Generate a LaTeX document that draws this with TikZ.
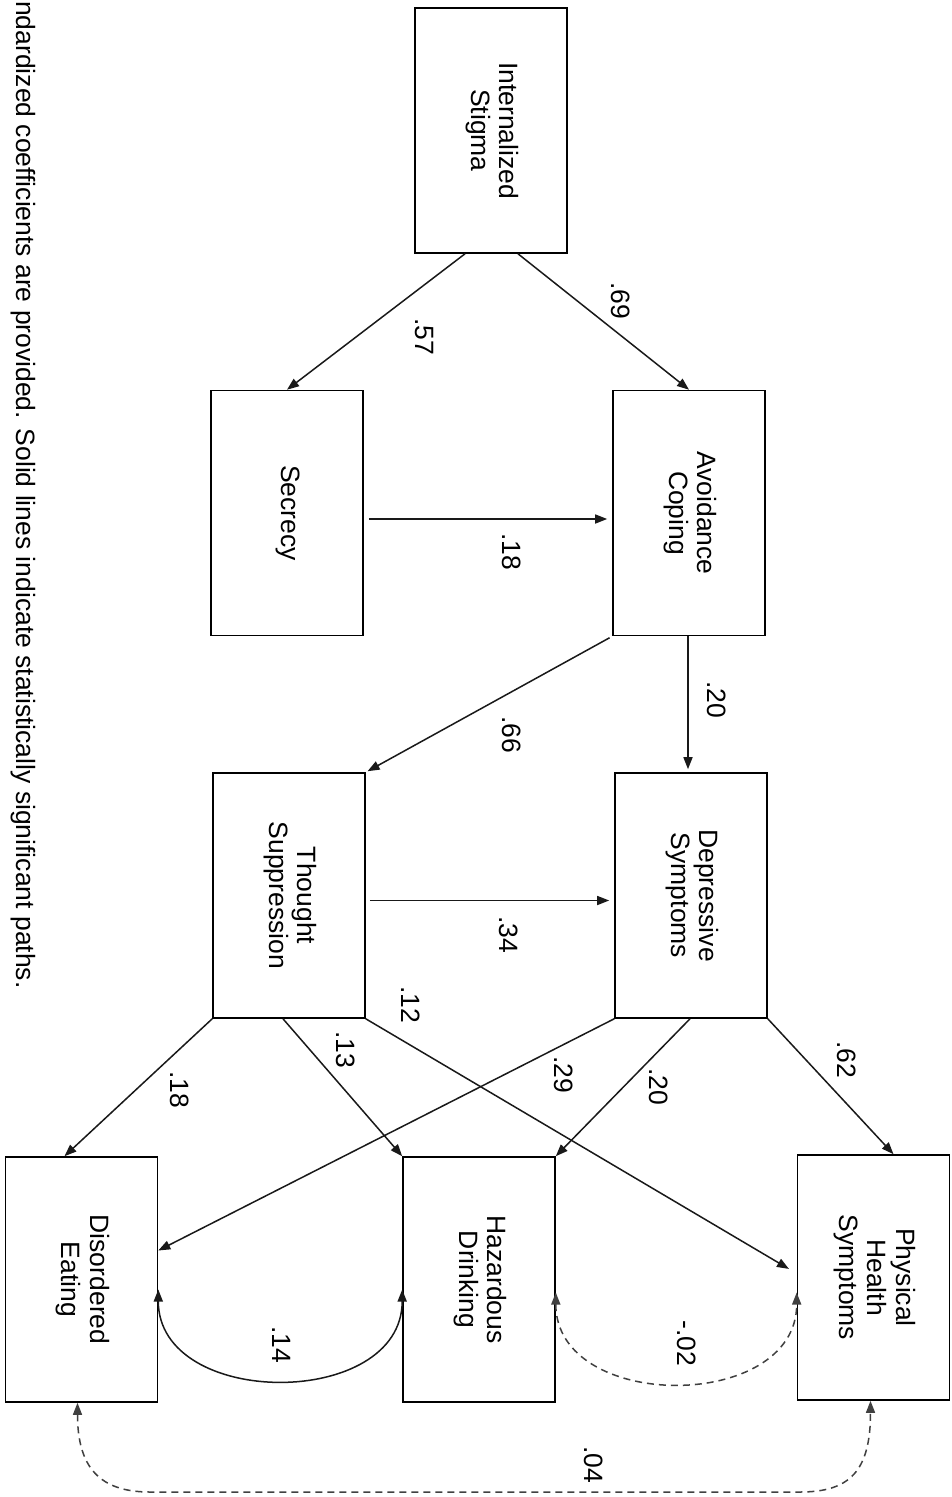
\documentclass[tikz,border=0pt]{standalone}
\usepackage{fontspec}
\setmainfont{Liberation Sans}
\usepackage{graphicx}
\usetikzlibrary{arrows.meta}
% text set top-to-bottom, as in a page turned a quarter clockwise
\newcommand{\turntext}[1]{\rotatebox{-90}{\begin{tabular}{@{}c@{}}#1\end{tabular}}}
\tikzset{
  box/.style={draw=black, line width=1.6pt, rectangle, minimum width=152pt, minimum height=245pt, inner sep=0pt},
  path/.style={draw=black!90, line width=1.5pt, -{Triangle[length=12pt,width=9pt]}},
  cov/.style={draw=black!90, line width=1.5pt, {Triangle[length=12pt,width=9pt]}-{Triangle[length=12pt,width=9pt]}},
  nscov/.style={cov, draw=black!75, dash pattern=on 7pt off 5pt},
  lbl/.style={inner sep=0pt, font=\fontsize{26.5}{28.5}\selectfont},
}
\begin{document}
\begin{tikzpicture}[x=1pt, y=-1pt, font=\fontsize{26.5}{28.5}\selectfont]
\useasboundingbox (0,0) rectangle (951,1497);
\fill[white] (0,0) rectangle (951,1497);

% latent constructs
\node[box] (is) at (491,130.5) {\turntext{Internalized\\Stigma}};
\node[box] (sec) at (287,513) {\turntext{Secrecy}};
\node[box] (ac) at (689,513) {\turntext{Avoidance\\Coping}};
\node[box] (ts) at (289,895.5) {\turntext{Thought\\Suppression}};
\node[box] (ds) at (691,895.5) {\turntext{Depressive\\Symptoms}};
\node[box] (de) at (81.5,1279.5) {\turntext{Disordered\\Eating}};
\node[box] (hd) at (479,1279.5) {\turntext{Hazardous\\Drinking}};
\node[box] (ph) at (873.5,1277.5) {\turntext{Physical\\Health\\Symptoms}};

% directed paths
\draw[path] ([xshift=-26pt]is.south) -- (sec.north);
\draw[path] ([xshift=27pt]is.south) -- (ac.north);
\draw[path, shorten <=5pt, shorten >=5pt] ([yshift=-6pt]sec.east) -- ([yshift=-6pt]ac.west);
\draw[path, shorten >=3pt] ([xshift=-1pt]ac.south) -- ([xshift=-3pt]ds.north);
\draw[path, shorten <=3pt, shorten >=2pt] (ac.south west) -- (ts.north east);
\draw[path, shorten <=4pt, shorten >=5pt] ([yshift=-5pt]ts.east) -- ([yshift=-5pt]ds.west);
\draw[path] (ts.south west) -- ([xshift=-17pt]de.north);
\draw[path] ([xshift=-6pt]ts.south) -- (hd.north west);
\draw[path, shorten >=9pt] (ts.south east) -- ([yshift=4pt]ph.west);
\draw[path] (ds.south west) -- ([yshift=29pt]de.east);
\draw[path] ([xshift=-1pt]ds.south) -- (hd.north east);
\draw[path] (ds.south east) -- ([xshift=20pt]ph.north);

% residual covariances
\draw[cov] ([yshift=-10pt]de.east) .. controls +(0,120) and +(0,120) .. ([yshift=-10pt]hd.west);
\draw[nscov] ([yshift=-13pt]hd.east) .. controls +(0,120) and +(0,120) .. ([yshift=-15pt]ph.west);
\coordinate (b1) at (150,1492);
\coordinate (b2) at (800,1492);
\draw[nscov] ([xshift=-4pt]de.south) .. controls +(0,65) and +(-50,0) .. (b1) -- (b2) .. controls +(50,0) and +(0,70) .. ([xshift=-3pt]ph.south);

% coefficients
\node[lbl] (l1) at (421,337) {\turntext{.57}};
\node[lbl] (l2) at (617,301) {\turntext{.69}};
\node[lbl] (l3) at (508,552) {\turntext{.18}};
\node[lbl] (l4) at (713,700) {\turntext{.20}};
\node[lbl] (l5) at (508,735) {\turntext{.66}};
\node[lbl] (l6) at (505,935) {\turntext{.34}};
\node[lbl] (l7) at (176,1090) {\turntext{.18}};
\node[lbl] (l8) at (342,1050) {\turntext{.13}};
\node[lbl] (l9) at (407,1005) {\turntext{.12}};
\node[lbl] (l10) at (560,1075) {\turntext{.29}};
\node[lbl] (l11) at (655,1087) {\turntext{.20}};
\node[lbl] (l12) at (843,1060) {\turntext{.62}};
\node[lbl] (l13) at (278,1345) {\turntext{.14}};
\node[lbl] (l14) at (683,1343) {\turntext{-.02}};
\node[lbl] (l15) at (590,1465) {\turntext{.04}};

% note
\node[lbl, anchor=north] (note) at (22,1) {\turntext{ndardized coefficients are provided. Solid lines indicate statistically significant paths.}};
\end{tikzpicture}
\end{document}
